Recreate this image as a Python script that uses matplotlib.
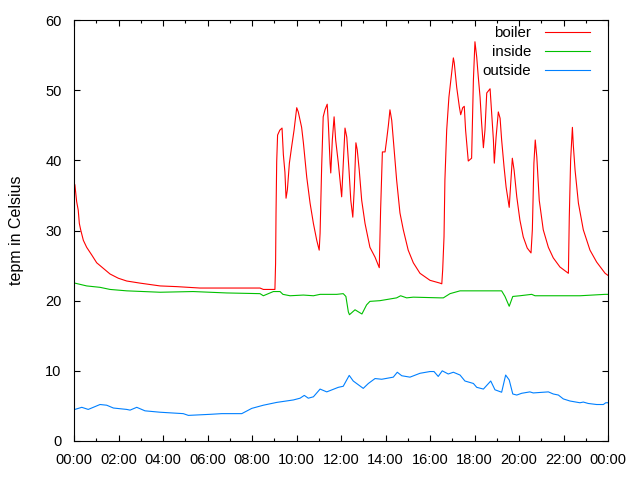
import matplotlib
matplotlib.use("Agg")
import matplotlib.pyplot as plt
from matplotlib.ticker import MultipleLocator, FixedLocator

plt.rcParams['font.family'] = ['Liberation Sans', 'DejaVu Sans']

# boiler temperature (hours, Celsius)
t_boiler = [0.0, 0.04, 0.12, 0.19, 0.24, 0.30, 0.42, 0.57, 0.80, 1.02, 1.32, 1.62,
            1.99, 2.37, 2.97, 3.87, 4.62, 5.66, 8.36, 8.51, 9.03,
            9.06, 9.08, 9.11, 9.15, 9.25, 9.35, 9.41, 9.48, 9.53, 9.59, 9.68, 9.78,
            9.89, 10.01, 10.08, 10.23, 10.31, 10.46, 10.61, 10.76, 10.91, 11.02,
            11.06, 11.13, 11.20, 11.28, 11.38, 11.43, 11.51, 11.54, 11.61, 11.69,
            11.76, 11.88, 12.0, 12.03, 12.18, 12.26, 12.36, 12.44, 12.53, 12.60,
            12.67, 12.73, 12.82, 12.93, 13.08, 13.30, 13.53, 13.72, 13.78, 13.86,
            13.98, 14.05, 14.13, 14.20, 14.28, 14.38, 14.50, 14.65, 14.80, 15.02,
            15.25, 15.55, 16.0, 16.45, 16.53, 16.57, 16.63, 16.67, 16.75, 16.85,
            16.97, 17.05, 17.09, 17.2, 17.32, 17.38, 17.47, 17.54, 17.6, 17.72,
            17.87, 17.95, 18.02, 18.1, 18.17, 18.25, 18.32, 18.40, 18.47, 18.55,
            18.70, 18.77, 18.85, 18.89, 18.97, 19.07, 19.15, 19.22, 19.33, 19.42,
            19.52, 19.56, 19.63, 19.70, 19.78, 19.90, 20.04, 20.19, 20.37, 20.54,
            20.60, 20.67, 20.73, 20.80, 20.91, 21.09, 21.32, 21.54, 21.84, 22.14,
            22.22, 22.26, 22.32, 22.40, 22.44, 22.52, 22.67, 22.89, 23.19, 23.49,
            23.87, 24.0]
v_boiler = [36.8, 36.5, 34.1, 32.9, 31.0, 30.1, 28.6, 27.6, 26.5, 25.4, 24.6, 23.8,
            23.2, 22.8, 22.5, 22.1, 22.0, 21.8, 21.8, 21.6, 21.6,
            25.3, 32.5, 39.8, 43.6, 44.3, 44.6, 40.8, 38.3, 34.6, 35.8, 39.6, 41.9,
            44.3, 47.5, 46.9, 44.7, 42.5, 37.6, 33.9, 31.0, 28.6, 27.2,
            29.6, 39.0, 46.2, 47.2, 48.0, 45.3, 39.6, 38.2, 42.9, 46.2,
            42.9, 39.6, 35.8, 34.8, 44.6, 43.3, 38.6, 34.3, 31.9, 36.2,
            42.5, 41.5, 38.6, 34.3, 31.0, 27.6, 26.2, 24.7, 32.9, 41.2,
            41.2, 42.9, 45.0, 47.2, 45.7, 41.9, 37.2, 32.5, 30.1, 27.2,
            25.4, 23.9, 22.9, 22.5, 22.4, 24.4, 29.1, 37.2, 44.3, 49.0,
            52.4, 54.6, 53.9, 50.4, 47.6, 46.5, 47.5, 47.7, 44.3, 39.9,
            40.3, 51.4, 56.9, 54.7, 51.9, 49.0, 45.3, 41.8, 44.3, 49.6,
            50.2, 46.7, 42.9, 39.6, 43.3, 46.9, 46.0, 42.9, 39.0, 36.2,
            34.1, 33.3, 36.8, 40.3, 38.6, 34.8, 31.5, 29.1, 27.5, 26.8,
            30.1, 39.6, 42.9, 40.5, 34.3, 30.1, 27.6, 26.1, 24.8, 24.1,
            23.9, 31.9, 40.0, 44.7, 42.2, 38.6, 33.9, 30.1, 27.2, 25.5,
            23.9, 23.6]

# inside temperature
t_inside = [0.0, 0.04, 0.57, 1.17, 1.62, 2.37, 3.87, 5.35, 6.86, 8.36, 8.51, 8.96,
            9.26, 9.39, 9.71, 10.31, 10.76, 11.06, 11.81, 12.10, 12.22, 12.33,
            12.38, 12.63, 12.94, 13.15, 13.30, 13.75, 14.50, 14.68, 14.95, 15.25,
            16.45, 16.60, 16.90, 17.35, 19.22, 19.37, 19.56, 19.72, 20.04, 20.57,
            20.72, 21.54, 22.74, 23.87, 24.0]
v_inside = [22.5, 22.5, 22.1, 21.9, 21.6, 21.4, 21.2, 21.3, 21.1, 21.0, 20.7, 21.3,
            21.3, 20.9, 20.7, 20.8, 20.7, 20.9, 20.9, 21.0, 20.6, 18.4,
            18.0, 18.7, 18.1, 19.4, 19.9, 20.0, 20.4, 20.7, 20.4, 20.5,
            20.4, 20.4, 21.0, 21.4, 21.4, 20.6, 19.2, 20.6, 20.7, 20.9,
            20.7, 20.7, 20.7, 20.9, 20.9]

# outside temperature
t_outside = [0.0, 0.04, 0.35, 0.64, 1.17, 1.47, 1.77, 2.37, 2.52, 2.82, 3.19, 3.87,
             4.91, 5.14, 6.11, 6.64, 7.54, 7.99, 8.51, 9.11, 9.86, 10.16, 10.35,
             10.53, 10.76, 11.06, 11.36, 11.88, 12.10, 12.37, 12.55, 13.0, 13.23,
             13.53, 13.83, 14.35, 14.53, 14.73, 15.10, 15.55, 16.0, 16.18, 16.37,
             16.55, 16.82, 17.05, 17.35, 17.57, 17.95, 18.10, 18.40, 18.73, 18.92,
             19.22, 19.40, 19.56, 19.72, 19.90, 20.12, 20.49, 20.64, 21.32, 21.54,
             21.77, 21.99, 22.29, 22.74, 22.89, 23.11, 23.49, 23.79, 23.90, 24.0]
v_outside = [4.5, 4.5, 4.8, 4.5, 5.2, 5.1, 4.7, 4.5, 4.4, 4.8, 4.3, 4.1,
             3.9, 3.65, 3.8, 3.9, 3.9, 4.65, 5.1, 5.5, 5.85, 6.1, 6.5,
             6.1, 6.3, 7.4, 7.0, 7.65, 7.8, 9.35, 8.55, 7.5, 8.2,
             8.9, 8.8, 9.1, 9.8, 9.3, 9.1, 9.65, 9.9, 9.9, 9.2,
             10.0, 9.55, 9.8, 9.4, 8.55, 8.2, 7.65, 7.4, 8.55, 7.3,
             6.95, 9.4, 8.7, 6.7, 6.55, 6.8, 7.0, 6.85, 7.0, 6.7,
             6.55, 6.0, 5.7, 5.45, 5.55, 5.35, 5.2, 5.2, 5.45, 5.45]

x_ticks = [0, 2, 4, 6, 8, 10, 12, 14, 16, 18, 20, 22, 24]
x_labels = ["00:00", "02:00", "04:00", "06:00", "08:00", "10:00", "12:00",
            "14:00", "16:00", "18:00", "20:00", "22:00", "00:00"]

fig = plt.figure(figsize=(6.4, 4.8), dpi=100)
ax = fig.add_axes([74/640, 39/480, 534/640, 421/480])

ax.plot(t_boiler, v_boiler, color="#ff0000", lw=0.8, label="boiler")
ax.plot(t_inside, v_inside, color="#00c000", lw=0.8, label="inside")
ax.plot(t_outside, v_outside, color="#0080ff", lw=0.8, label="outside")

ax.set_xlim(0, 24)
ax.set_ylim(0, 60)
ax.xaxis.set_major_locator(FixedLocator(x_ticks))
ax.set_xticklabels(x_labels)
ax.xaxis.set_minor_locator(MultipleLocator(1))
ax.yaxis.set_major_locator(MultipleLocator(10))

ax.tick_params(which="both", direction="in", top=True, right=True,
               labelsize=10.5, pad=9, width=0.8)
ax.tick_params(which="major", length=4.5)
ax.tick_params(which="minor", length=2.5)
for s in ax.spines.values():
    s.set_linewidth(0.8)

ax.set_ylabel("tepm in Celsius", fontsize=11.5)
ax.yaxis.set_label_coords(-0.093, 0.5)

ax.legend(loc="center right", bbox_to_anchor=(0.966, 0.9233), frameon=False,
          markerfirst=False, fontsize=10.8, handlelength=3.0,
          handletextpad=0.9, labelspacing=0.32, borderpad=0, borderaxespad=0)

fig.savefig("out.png", dpi=100)
